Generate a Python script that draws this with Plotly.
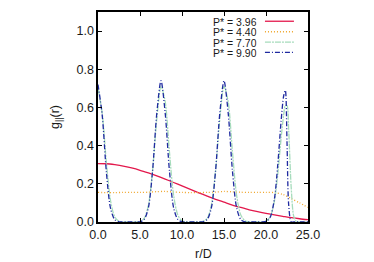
import plotly.graph_objects as go

# ---- data ----
r_smooth = [0, 1, 2, 3, 4, 5, 6, 7, 8, 9, 10, 11, 12, 13, 14, 15, 16, 17, 18, 19, 20, 21, 22, 23, 24, 25]
g_396 = [0.306, 0.305, 0.300, 0.293, 0.283, 0.271, 0.257, 0.242, 0.225, 0.207, 0.189, 0.171, 0.153,
         0.136, 0.119, 0.104, 0.089, 0.076, 0.064, 0.054, 0.045, 0.037, 0.030, 0.023, 0.017, 0.012]
g_440 = [0.155, 0.154, 0.154, 0.155, 0.155, 0.155, 0.156, 0.159, 0.160, 0.157, 0.155, 0.154, 0.154,
         0.155, 0.157, 0.160, 0.158, 0.156, 0.155, 0.155, 0.155, 0.154, 0.145, 0.123, 0.100, 0.076]

r_peak = [0.0, 0.5, 1.0, 1.5, 2.0, 2.5, 3.0, 3.5, 4.0, 4.5, 5.0, 5.5, 6.0, 6.5, 7.0, 7.5, 8.0, 8.5,
          9.0, 9.5, 10.0, 10.5, 11.0, 11.5, 12.0, 12.5, 13.0, 13.5, 14.0, 14.5, 15.0, 15.5, 16.0,
          16.5, 17.0, 17.5, 18.0, 18.5, 19.0, 19.5, 20.0, 20.5, 21.0, 21.4, 21.8, 22.1, 22.3, 22.5,
          22.7, 23.0, 23.3, 23.6, 24.0, 24.5, 25.0]
g_770 = [0.70, 0.57, 0.31, 0.11, 0.026, 0.004, 0.0, 0.0, 0.0, 0.0, 0.003, 0.019, 0.088, 0.27, 0.54,
         0.71, 0.63, 0.37, 0.14, 0.037, 0.006, 0.001, 0.0, 0.0, 0.0, 0.003, 0.019, 0.088, 0.27, 0.54,
         0.71, 0.63, 0.37, 0.14, 0.037, 0.006, 0.001, 0.0, 0.0, 0.0, 0.005, 0.027, 0.11, 0.25, 0.44,
         0.56, 0.61, 0.61, 0.48, 0.18, 0.03, 0.003, 0.0, 0.0, 0.0]
g_990 = [0.72, 0.56, 0.26, 0.07, 0.012, 0.001, 0.0, 0.0, 0.0, 0.0, 0.001, 0.013, 0.075, 0.27, 0.57,
         0.74, 0.57, 0.27, 0.075, 0.013, 0.001, 0.0, 0.0, 0.0, 0.0, 0.001, 0.013, 0.075, 0.27, 0.57,
         0.74, 0.57, 0.27, 0.075, 0.013, 0.001, 0.0, 0.0, 0.0, 0.0, 0.003, 0.025, 0.12, 0.30, 0.53,
         0.66, 0.69, 0.42, 0.09, 0.0, 0.0, 0.0, 0.0, 0.0, 0.0]

labels = ["P* = 3.96", "P* = 4.40", "P* = 7.70", "P* = 9.90"]
colors = ["#e3184c", "#f0a830", "#a6dcbc", "#1f2aa0"]
dashes = ["solid", "1px,2px", "6px,1px,2px,1px", "5px,2px,1px,2px"]

x_ticks = [0, 5, 10, 15, 20, 25]
y_ticks = [0, 0.2, 0.4, 0.6, 0.8, 1.0]

FONT = "Liberation Sans"
TXT = "#1a1a1a"

fig = go.Figure()
series = [(r_smooth, g_396), (r_smooth, g_440), (r_peak, g_770), (r_peak, g_990)]
for (xs, ys), lab, col, d in zip(series, labels, colors, dashes):
    fig.add_trace(go.Scatter(x=xs, y=ys, mode="lines", name=lab,
                             line=dict(color=col, width=1.3, dash=d, shape="spline", smoothing=0.8),
                             showlegend=False))

# legend emulation (text left, sample right, as in gnuplot)
leg_y = [0.956, 0.906, 0.857, 0.808]
for lab, col, d, yy in zip(labels, colors, dashes, leg_y):
    fig.add_annotation(x=0.767, y=yy, xref="paper", yref="paper", text=lab, showarrow=False,
                       xanchor="right", yanchor="middle", height=9, valign="middle",
                       font=dict(family=FONT, size=10.5, color=TXT))
    fig.add_shape(type="line", xref="paper", yref="paper", x0=0.795, x1=0.933, y0=yy, y1=yy,
                  line=dict(color=col, width=1.3, dash=d))

# axis titles
fig.add_annotation(x=0.5, y=-0.154, xref="paper", yref="paper", text="r/D", showarrow=False,
                   xanchor="center", yanchor="middle", font=dict(family=FONT, size=12.5, color=TXT))
fig.add_annotation(x=-0.2, y=0.5, xref="paper", yref="paper", text="g<sub>||</sub>(r)", showarrow=False,
                   textangle=-90, xanchor="center", yanchor="middle",
                   font=dict(family=FONT, size=12.5, color=TXT))

axis_common = dict(showgrid=False, zeroline=False, showline=True, linecolor="black", linewidth=1.6,
                   mirror="ticks", ticks="inside", ticklen=4, tickwidth=1, tickcolor="black",
                   automargin=False,
                   tickfont=dict(family=FONT, size=12.5, color=TXT))

fig.update_xaxes(range=[0, 25], tickvals=x_ticks, tickformat=".1f", **axis_common)
fig.update_yaxes(range=[0, 1.1], tickvals=y_ticks, tickformat=".1f", **axis_common)

fig.update_layout(width=374, height=262, margin=dict(l=98, r=66, t=12, b=40, autoexpand=False),
                  paper_bgcolor="white", plot_bgcolor="white", showlegend=False)

fig.write_html("out.html", config={"displayModeBar": False, "staticPlot": True},
               post_script="document.body.style.margin='0';document.body.style.overflow='hidden';")
